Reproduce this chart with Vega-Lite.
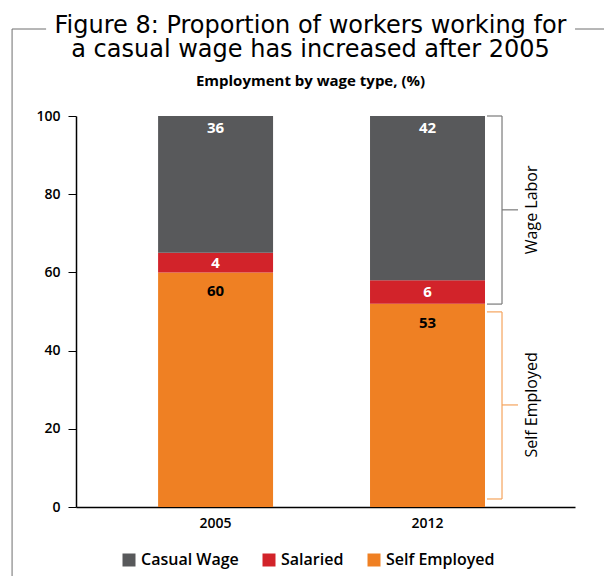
{
  "$schema": "https://vega.github.io/schema/vega-lite/v6.json",
  "width": 499,
  "height": 391,
  "autosize": "none",
  "padding": {"left": 76, "top": 116, "right": 29, "bottom": 69},
  "title": {
    "text": ["Figure 8: Proportion of workers working for", "a casual wage has increased after 2005"],
    "subtitle": "Employment by wage type, (%)",
    "anchor": "middle",
    "dx": -15,
    "offset": -60,
    "font": "DejaVu Sans",
    "fontSize": 24,
    "fontWeight": "normal",
    "lineHeight": 24,
    "color": "#000000",
    "subtitleFont": "Open Sans",
    "subtitleFontSize": 15,
    "subtitleFontWeight": "bold",
    "subtitleColor": "#000000",
    "subtitlePadding": 12
  },
  "datasets": {
    "bars": [
      {"year": "2005", "type": "Self Employed", "order": 1, "value": 60, "label": "60"},
      {"year": "2005", "type": "Salaried", "order": 2, "value": 5, "label": "4"},
      {"year": "2005", "type": "Casual Wage", "order": 3, "value": 35, "label": "36"},
      {"year": "2012", "type": "Self Employed", "order": 1, "value": 52, "label": "53"},
      {"year": "2012", "type": "Salaried", "order": 2, "value": 6, "label": "6"},
      {"year": "2012", "type": "Casual Wage", "order": 3, "value": 42, "label": "42"}
    ],
    "brackets": [
      {"year": "2012", "group": "Wage Labor", "low": 51.9, "high": 100, "mid": 76},
      {"year": "2012", "group": "Self Employed", "low": 2.05, "high": 49.9, "mid": 26.1}
    ]
  },
  "layer": [
    {
      "data": {"name": "bars"},
      "transform": [
        {"stack": "value", "groupby": ["year"], "sort": [{"field": "order", "order": "ascending"}], "as": ["v0", "v1"]},
        {"calculate": "(datum.v0 + datum.v1) / 2", "as": "vmid"}
      ],
      "layer": [
        {
          "mark": {"type": "bar"},
          "encoding": {
            "x": {
              "field": "year", "type": "nominal",
              "scale": {"domain": ["2005", "2012"], "paddingInner": 0.4575, "paddingOuter": 0.406, "align": 0.477},
              "axis": {"title": null, "labelAngle": 0, "ticks": false, "labelPadding": 9, "domainColor": "#000000"}
            },
            "y": {
              "field": "v1", "type": "quantitative",
              "scale": {"domain": [0, 100]},
              "axis": {"title": null, "values": [0, 20, 40, 60, 80, 100], "tickSize": 8, "labelPadding": 8, "domainColor": "#000000", "tickColor": "#000000"}
            },
            "y2": {"field": "v0"},
            "color": {
              "field": "type", "type": "nominal",
              "scale": {"domain": ["Casual Wage", "Salaried", "Self Employed"], "range": ["#58595b", "#d2232a", "#ef8023"]},
              "legend": {"title": null, "orient": "none", "legendX": 45, "legendY": 436, "direction": "horizontal", "symbolType": "square", "symbolSize": 169, "symbolStrokeWidth": 0, "symbolOpacity": 1, "labelFontSize": 16, "labelFont": "Open Sans", "labelFontWeight": 600, "labelColor": "#000000", "labelOffset": 4, "columnPadding": 22}
            }
          }
        },
        {
          "transform": [{"filter": "datum.type == 'Casual Wage'"}],
          "mark": {"type": "text", "baseline": "middle", "dy": 12, "color": "#ffffff", "font": "Open Sans", "fontWeight": "bold", "fontSize": 15},
          "encoding": {
            "x": {"field": "year", "type": "nominal"},
            "y": {"field": "v1", "type": "quantitative"},
            "text": {"field": "label"}
          }
        },
        {
          "transform": [{"filter": "datum.type == 'Salaried'"}],
          "mark": {"type": "text", "baseline": "middle", "color": "#ffffff", "font": "Open Sans", "fontWeight": "bold", "fontSize": 15},
          "encoding": {
            "x": {"field": "year", "type": "nominal"},
            "y": {"field": "vmid", "type": "quantitative"},
            "text": {"field": "label"}
          }
        },
        {
          "transform": [{"filter": "datum.type == 'Self Employed'"}],
          "mark": {"type": "text", "baseline": "middle", "dy": 19, "color": "#000000", "font": "Open Sans", "fontWeight": "bold", "fontSize": 15},
          "encoding": {
            "x": {"field": "year", "type": "nominal"},
            "y": {"field": "v1", "type": "quantitative"},
            "text": {"field": "label"}
          }
        }
      ]
    },
    {
      "data": {"name": "brackets"},
      "layer": [
        {
          "mark": {"type": "rule", "strokeWidth": 1.2},
          "encoding": {
            "x": {"field": "year", "type": "nominal", "bandPosition": 1.148},
            "y": {"field": "low", "type": "quantitative"},
            "y2": {"field": "high"},
            "stroke": {"field": "group", "type": "nominal", "scale": {"domain": ["Wage Labor", "Self Employed"], "range": ["#7a7a7a", "#f5a45c"]}, "legend": null}
          }
        },
        {
          "transform": [{"fold": ["low", "high"], "as": ["end", "pos"]}],
          "mark": {"type": "rule", "strokeWidth": 1.2},
          "encoding": {
            "x": {"field": "year", "type": "nominal", "bandPosition": 1.017},
            "x2": {"field": "year", "bandPosition": 1.148},
            "y": {"field": "pos", "type": "quantitative"},
            "stroke": {"field": "group", "type": "nominal", "legend": null}
          }
        },
        {
          "mark": {"type": "rule", "strokeWidth": 1.2},
          "encoding": {
            "x": {"field": "year", "type": "nominal", "bandPosition": 1.148},
            "x2": {"field": "year", "bandPosition": 1.287},
            "y": {"field": "mid", "type": "quantitative"},
            "stroke": {"field": "group", "type": "nominal", "legend": null}
          }
        },
        {
          "mark": {"type": "text", "angle": 270, "align": "center", "baseline": "middle", "font": "Open Sans", "fontSize": 16, "fontWeight": 500, "color": "#000000"},
          "encoding": {
            "x": {"field": "year", "type": "nominal", "bandPosition": 1.409},
            "y": {"field": "mid", "type": "quantitative"},
            "text": {"field": "group"}
          }
        }
      ]
    },
    {
      "data": {"values": [{}]},
      "layer": [
        {
          "mark": {"type": "rule", "color": "#6f6f6f", "strokeWidth": 1},
          "encoding": {
            "x": {"datum": "2005", "type": "nominal", "bandPosition": -1.27},
            "y": {"datum": 122.25, "type": "quantitative"},
            "y2": {"datum": -18}
          }
        },
        {
          "mark": {"type": "rule", "color": "#6f6f6f", "strokeWidth": 1},
          "encoding": {
            "x": {"datum": "2005", "type": "nominal", "bandPosition": -1.27},
            "x2": {"datum": "2005", "bandPosition": -0.974},
            "y": {"datum": 122.25, "type": "quantitative"}
          }
        },
        {
          "mark": {"type": "rule", "color": "#6f6f6f", "strokeWidth": 1},
          "encoding": {
            "x": {"datum": "2012", "type": "nominal", "bandPosition": 1.783},
            "x2": {"datum": "2012", "bandPosition": 2.05},
            "y": {"datum": 122.25, "type": "quantitative"}
          }
        }
      ]
    }
  ],
  "config": {
    "font": "Open Sans",
    "view": {"stroke": null},
    "axis": {"grid": false, "labelFont": "Open Sans", "labelFontSize": 14, "labelFontWeight": 600, "labelColor": "#000000", "domainWidth": 1.5}
  }
}
